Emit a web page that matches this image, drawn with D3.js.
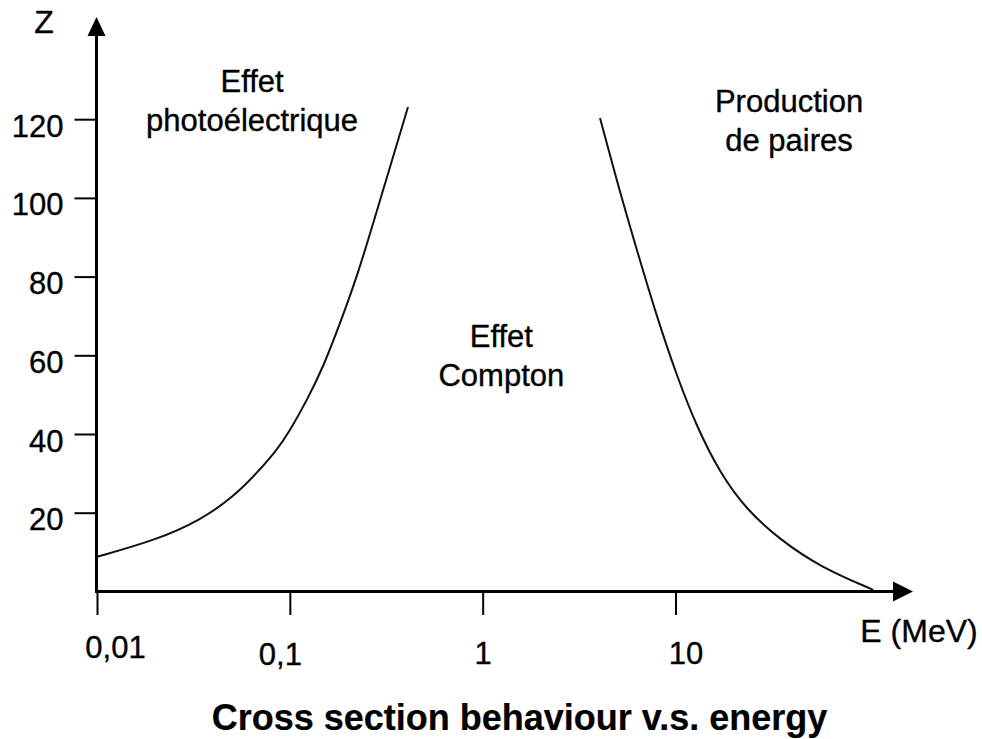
<!DOCTYPE html>
<html>
<head>
<meta charset="utf-8">
<script src="https://cdn.jsdelivr.net/npm/d3@7/dist/d3.min.js"></script>
<style>
  html, body { margin: 0; padding: 0; background: #fff; }
  svg { display: block; }
  text { font-family: "Liberation Sans", Arial, sans-serif; fill: #000; stroke: #000; stroke-width: 0.35px; }
</style>
</head>
<body>
<script>
// Photoelectric / Compton boundary (E in MeV, Z)
const photoEnergy = [0.01, 0.0204, 0.0344, 0.0509, 0.0675, 0.0857, 0.1005, 0.1227, 0.149, 0.1824, 0.2228, 0.2706, 0.331, 0.41];
const photoZ      = [8.8, 13.1, 18.1, 24.0, 30.1, 35.9, 41.0, 48.6, 57.0, 68.2, 79.9, 93.6, 107.9, 123.1];

// Compton / pair production boundary
const pairEnergy = [4.06, 5.16, 6.30, 8.00, 10.2, 12.9, 17.0, 23.4, 34.9, 56.3, 106];
const pairZ      = [120.3, 101.3, 86.8, 69.8, 54.5, 41.8, 30.1, 20.7, 13.1, 6.2, 0.4];

// Axis ticks
const energyTicks  = [0.01, 0.1, 1, 10];
const energyLabels = ["0,01", "0,1", "1", "10"];
const zTicks       = [20, 40, 60, 80, 100, 120];

// Region names
const regionLabels = [
  { lines: ["Effet", "photoélectrique"], E: 0.0637, Z: 126.9 },
  { lines: ["Effet", "Compton"],         E: 1.25,   Z: 62.1 },
  { lines: ["Production", "de paires"],  E: 38.8,   Z: 121.9 }
];

const W = 982, H = 739;
const svg = d3.select("body").append("svg").attr("width", W).attr("height", H);

const x = d3.scaleLog().domain([0.01, 10]).range([97, 675.5]);
const y = d3.scaleLinear().domain([0, 120]).range([591.4, 119.2]);

const fs = 31;
const family = "Liberation Sans, Arial, sans-serif";

// Y axis ticks and labels
const yAxis = d3.axisLeft(y).tickValues(zTicks).tickSize(22).tickPadding(11);
const gy = svg.append("g").attr("transform", "translate(96.5,0)").call(yAxis);
gy.select(".domain").remove();
gy.selectAll(".tick line").attr("stroke", "#000").attr("stroke-width", 2);
gy.selectAll(".tick text").attr("font-size", fs).attr("dy", 17)
  .attr("font-family", family).attr("fill", "#000");

// X axis ticks and labels
const labelNudge = { 0.01: 18, 0.1: -10, 1: 0, 10: 10 };
const labelDrop  = { 0.01: 0, 0.1: 7, 1: 6, 10: 6 };
const xAxis = d3.axisBottom(x).tickValues(energyTicks)
  .tickFormat((d, i) => energyLabels[i]).tickSize(22).tickPadding(0);
const gx = svg.append("g").attr("transform", "translate(0,593)").call(xAxis);
gx.select(".domain").remove();
gx.selectAll(".tick line").attr("stroke", "#000").attr("stroke-width", 2);
gx.selectAll(".tick text").attr("font-size", fs)
  .attr("font-family", family).attr("fill", "#000")
  .attr("dy", null).attr("y", d => 65 + labelDrop[d])
  .attr("x", d => labelNudge[d]);

// Main axis lines with arrow heads
svg.append("line").attr("x1", 96.5).attr("x2", 96.5).attr("y1", 593).attr("y2", 34)
  .attr("stroke", "#000").attr("stroke-width", 3);
svg.append("path").attr("d", "M96.5,17 L87.5,36 L105.5,36 Z").attr("fill", "#000");

svg.append("line").attr("x1", 95).attr("x2", 895).attr("y1", 591.5).attr("y2", 591.5)
  .attr("stroke", "#000").attr("stroke-width", 3);
svg.append("path").attr("d", "M913,591.5 L893,581.5 L893,601.5 Z").attr("fill", "#000");

// Axis names
svg.append("text").attr("x", 44).attr("y", 33).attr("text-anchor", "middle")
  .attr("font-size", 32).text("Z");
svg.append("text").attr("x", 919).attr("y", 642).attr("text-anchor", "middle")
  .attr("font-size", 32).text("E (MeV)");

// Boundary curves
const line = d3.line().x(d => x(d[0])).y(d => y(d[1])).curve(d3.curveBasis);
const photoPts = photoEnergy.map((e, i) => [e, photoZ[i]]);
const pairPts  = pairEnergy.map((e, i) => [e, pairZ[i]]);
[photoPts, pairPts].forEach(pts => {
  svg.append("path").attr("d", line(pts)).attr("fill", "none")
    .attr("stroke", "#111").attr("stroke-width", 2);
});

// Region labels
regionLabels.forEach(r => {
  const t = svg.append("text").attr("text-anchor", "middle").attr("font-size", fs)
    .attr("x", x(r.E)).attr("y", y(r.Z));
  r.lines.forEach((s, i) => {
    t.append("tspan").attr("x", x(r.E)).attr("dy", i === 0 ? 0 : 39).text(s);
  });
});

// Title
svg.append("text").attr("x", 519.5).attr("y", 730).attr("text-anchor", "middle")
  .attr("font-size", 36).attr("font-weight", "bold").style("stroke-width", "0.2px")
  .text("Cross section behaviour v.s. energy");
</script>
</body>
</html>
